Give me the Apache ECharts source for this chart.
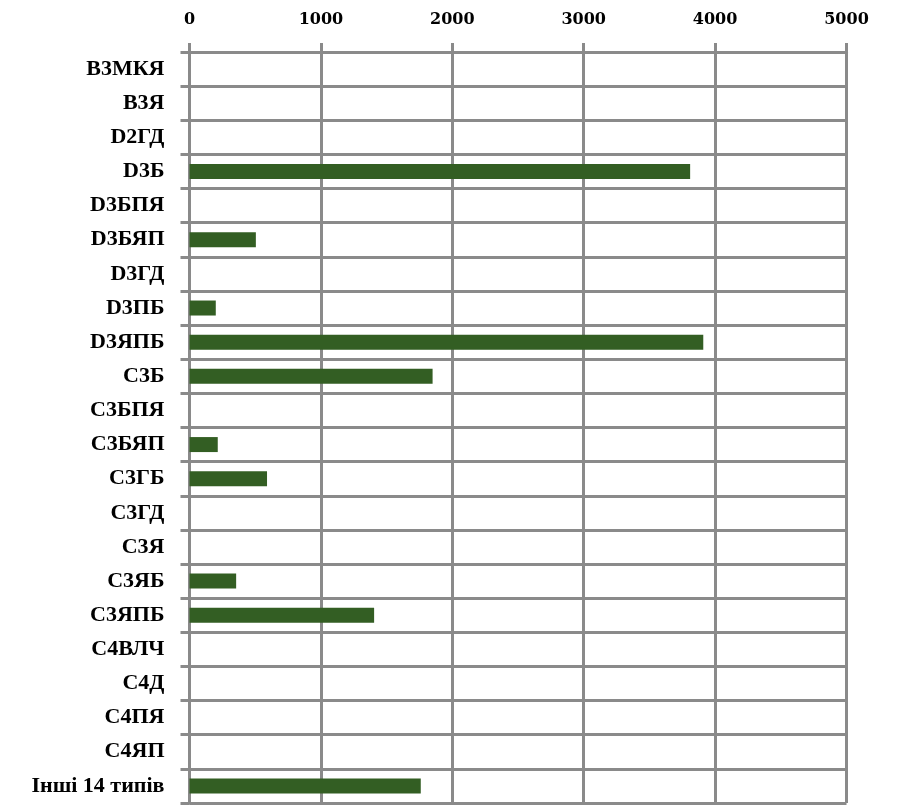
<!DOCTYPE html>
<html>
<head>
<meta charset="utf-8">
<script src="https://cdn.jsdelivr.net/npm/echarts@6/dist/echarts.min.js"></script>
<style>
html,body{margin:0;padding:0;background:#fff;}
#chart{width:915px;height:805px;}
</style>
</head>
<body>
<div id="chart"></div>
<script>
const categories = ['B3МКЯ','B3Я','D2ГД','D3Б','D3БПЯ','D3БЯП','D3ГД','D3ПБ','D3ЯПБ','C3Б','C3БПЯ','C3БЯП','C3ГБ','C3ГД','C3Я','C3ЯБ','C3ЯПБ','C4ВЛЧ','C4Д','C4ПЯ','C4ЯП','Інші 14 типів'];
const values = [0,0,0,3810,0,505,0,200,3910,1850,0,215,590,0,0,355,1405,0,0,0,0,1760];
const xTicks = [0,1000,2000,3000,4000,5000];

const gridColor = '#8a8a8a';
const chart = echarts.init(document.getElementById('chart'));
chart.setOption({
  animation:false,
  grid:{left:189.5,right:68.5,top:52,bottom:2,containLabel:false},
  xAxis:{
    type:'value', position:'top', min:xTicks[0], max:xTicks[xTicks.length-1], interval:1000,
    axisLine:{show:true,lineStyle:{color:gridColor,width:3}},
    axisTick:{show:true,length:9,lineStyle:{color:gridColor,width:3}},
    splitLine:{show:true,lineStyle:{color:gridColor,width:3}},
    axisLabel:{margin:24,color:'#000',fontFamily:'DejaVu Serif',fontSize:16,fontWeight:'bold',
      formatter:function(v){return String(v);}}
  },
  yAxis:{
    type:'category', inverse:true, data:categories,
    axisLine:{show:true,lineStyle:{color:gridColor,width:3}},
    axisTick:{show:true,length:9,lineStyle:{color:gridColor,width:3}},
    splitLine:{show:true,lineStyle:{color:gridColor,width:3}},
    axisLabel:{margin:25,color:'#000',fontFamily:'Liberation Serif',fontSize:22,fontWeight:'bold'}
  },
  series:[{
    type:'bar', data:values, barWidth:15,
    itemStyle:{color:'#335e23'}, z:3
  }]
});
</script>
</body>
</html>
